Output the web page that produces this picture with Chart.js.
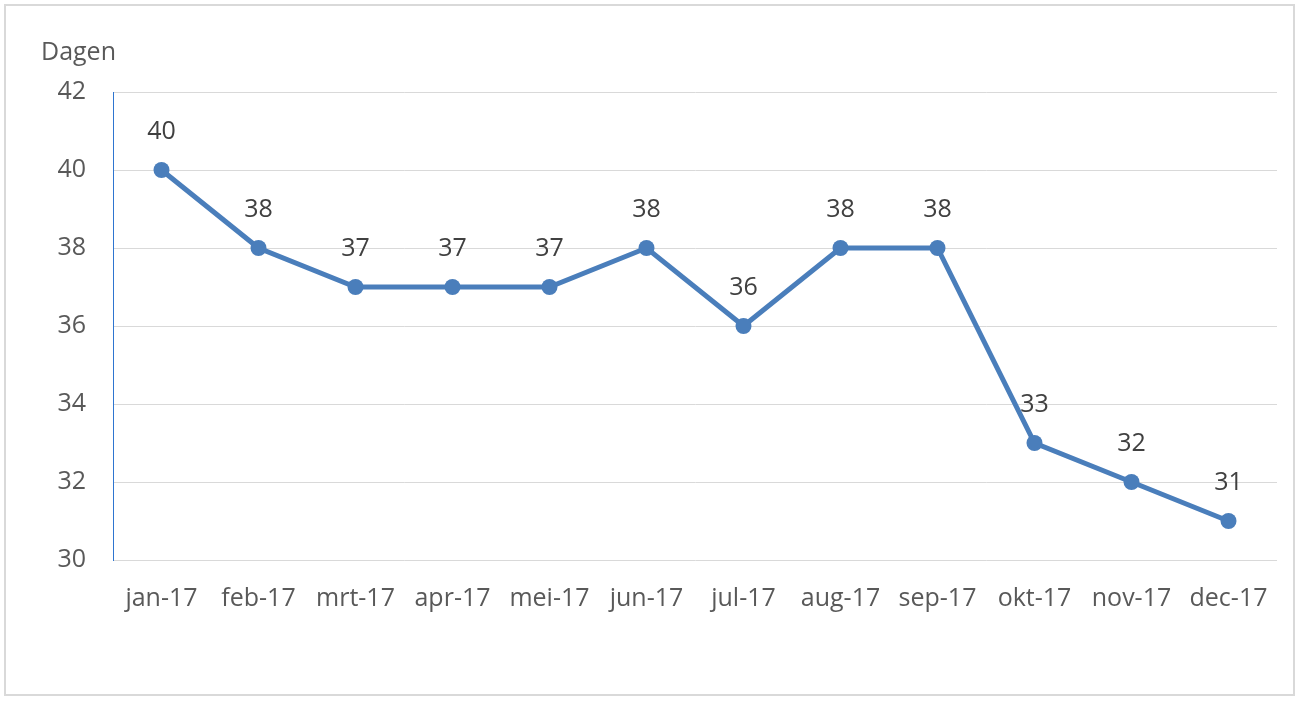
<!DOCTYPE html>
<html>
<head>
<meta charset="utf-8">
<script src="https://cdn.jsdelivr.net/npm/chart.js@4"></script>
<style>
  html, body { margin: 0; padding: 0; background: #fff; }
  #wrap { width: 1299px; height: 701px; }
</style>
</head>
<body>
<div id="wrap"><canvas id="chart" width="1299" height="701"></canvas></div>
<script>
const months = ["jan-17", "feb-17", "mrt-17", "apr-17", "mei-17", "jun-17",
                "jul-17", "aug-17", "sep-17", "okt-17", "nov-17", "dec-17"];
const days = [40, 38, 37, 37, 37, 38, 36, 38, 38, 33, 32, 31];
const yTicks = [30, 32, 34, 36, 38, 40, 42];

const lineColor = "#4a7ebb";
const textColor = "#595959";
const fontFamily = "'Open Sans', 'Liberation Sans', sans-serif";
const fontSize = 25;

// Frame around the whole chart, the "Dagen" label and the value labels
const extras = {
    id: "extras",
    beforeDraw(chart) {
        const ctx = chart.ctx;
        ctx.save();
        ctx.fillStyle = "#fff";
        ctx.fillRect(0, 0, chart.width, chart.height);
        ctx.strokeStyle = "#d9d9d9";
        ctx.lineWidth = 2;
        ctx.strokeRect(5, 5, 1289, 690);
        ctx.fillStyle = textColor;
        ctx.font = fontSize + "px " + fontFamily;
        ctx.textAlign = "left";
        ctx.textBaseline = "middle";
        ctx.fillText("Dagen", 41, 53);
        ctx.restore();
    },
    afterDatasetsDraw(chart) {
        const ctx = chart.ctx;
        const meta = chart.getDatasetMeta(0);
        ctx.save();
        ctx.fillStyle = "#404040";
        ctx.font = fontSize + "px " + fontFamily;
        ctx.textAlign = "center";
        ctx.textBaseline = "middle";
        meta.data.forEach((pt, i) => {
            ctx.fillText(String(days[i]), pt.x, pt.y - 38);
        });
        ctx.restore();
    }
};

new Chart(document.getElementById("chart").getContext("2d"), {
    type: "line",
    data: {
        labels: months,
        datasets: [{
            data: days,
            borderColor: lineColor,
            backgroundColor: lineColor,
            borderWidth: 5,
            pointRadius: 8,
            pointHoverRadius: 8,
            pointBorderWidth: 0,
            tension: 0,
            fill: false,
        }],
    },
    options: {
        responsive: false,
        animation: false,
        events: [],
        layout: { padding: { top: 92, right: 22, left: 0, bottom: 0 } },
        plugins: {
            legend: { display: false },
            tooltip: { enabled: false },
        },
        scales: {
            x: {
                offset: true,
                grid: { display: false, drawTicks: false },
                border: { display: false },
                ticks: {
                    color: textColor,
                    font: { size: fontSize, family: fontFamily },
                    padding: 24,
                    maxRotation: 0,
                    autoSkip: false,
                },
                afterFit: s => { s.height = 141; },
            },
            y: {
                min: 30,
                max: 42,
                afterBuildTicks: s => { s.ticks = yTicks.map(v => ({ value: v })); },
                grid: { color: "#d9d9d9", lineWidth: 1, drawTicks: false },
                border: { display: true, color: "#2e75d0", width: 1 },
                ticks: {
                    color: textColor,
                    font: { size: fontSize, family: fontFamily },
                    padding: 27,
                },
                afterFit: s => { s.width = 113; },
            },
        },
    },
    plugins: [extras],
});
</script>
</body>
</html>
